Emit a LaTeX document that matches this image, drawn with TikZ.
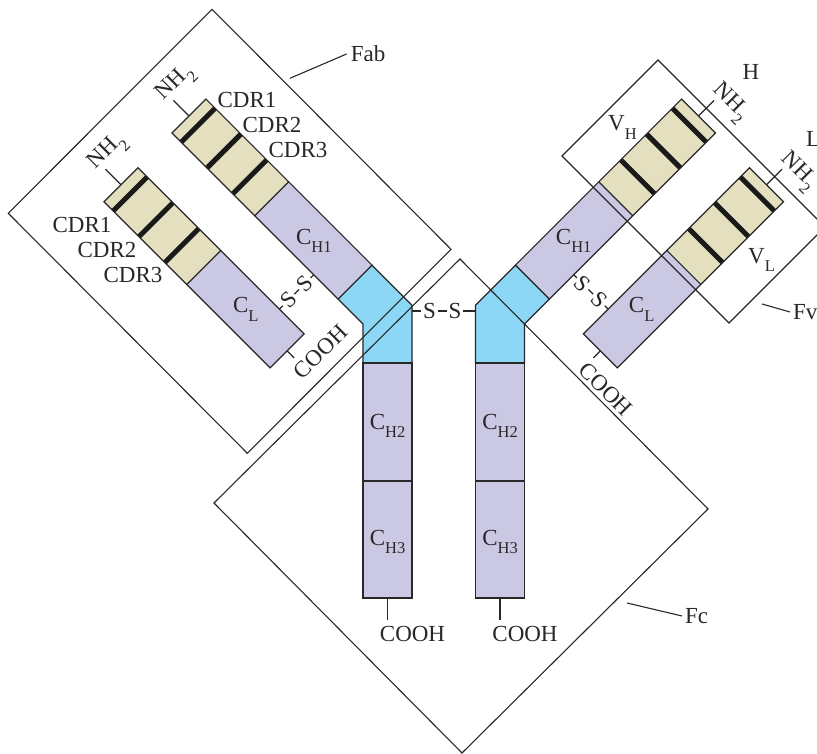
\documentclass[tikz,border=0pt]{standalone}
\usepackage{fontspec}
\setmainfont{Liberation Serif}
\definecolor{lavc}{RGB}{203,200,228}
\definecolor{tanc}{RGB}{227,223,191}
\definecolor{bluec}{RGB}{139,215,245}
\definecolor{inkc}{RGB}{40,40,40}
\newcommand\sbs[1]{\raisebox{-0.38em}{\fontsize{16.5}{16.5}\selectfont #1}}
\tikzset{
 outl/.style={draw=inkc, line width=1.2pt, line join=miter},
 boxl/.style={draw=inkc, line width=1.1pt},
 band/.style={draw=black!90, line width=5pt},
 lab/.style={font=\fontsize{23}{25}\selectfont, text=inkc, inner sep=0pt},
 sl/.style={lab, inner sep=1.5pt},
}
\newcommand\halfmol[2]{%
 % heavy-chain arm
 \begin{scope}[shift={(172,621)},rotate=-45]
  \fill[tanc] (0,0) rectangle (117,48);
  \fill[lavc] (117,0) rectangle (235,48);
  \foreach \b in {13,49.5,86} \draw[band] (\b,0) -- (\b,48);
  \draw[outl] (0,0) rectangle (235,48) (117,0) -- (117,48);
  \draw[outl] (0,24) -- (-22,24);
 \end{scope}
 % light-chain arm
 \begin{scope}[shift={(104,552.3)},rotate=-45]
  \fill[tanc] (0,0) rectangle (117,48);
  \fill[lavc] (117,0) rectangle (235,48);
  \foreach \b in {13,49.5,86} \draw[band] (\b,0) -- (\b,48);
  \draw[outl] (0,0) rectangle (235,48) (117,0) -- (117,48);
  \draw[outl] (0,24) -- (-22,24);
  \draw[outl] (235,24) -- (245,24);
  \node[sl,rotate=#2] (sa#1) at (200,61) {S};
  \node[sl,rotate=#2] (sb#1) at (200,84) {S};
  \coordinate (ea#1) at (200,48);
  \coordinate (eb#1) at (200,96.7);
  \draw[outl] (ea#1) -- (sa#1) -- (sb#1) -- (eb#1);
 \end{scope}
 % hinge
 \filldraw[outl, fill=bluec] (338.2,454.8) -- (372.1,488.7) -- (412,448.8) -- (412,391) -- (363,391) -- (363,430) -- cycle;
 % vertical chain
 \filldraw[outl, fill=lavc] (363,156) rectangle (412,391);
 \draw[outl] (363,273) -- (412,273);
 \draw[outl] (387.5,156) -- (387.5,134);
}
\begin{document}
\begin{tikzpicture}[x=1pt,y=1pt]
\clip (0,0) rectangle (817,754);
\fill[white] (0,0) rectangle (817,754);
\halfmol{l}{45}
\begin{scope}[shift={(887.5,0)},xscale=-1]
 \halfmol{r}{-45}
\end{scope}
% hinge disulfide
\coordinate (hl) at (412,443);
\coordinate (hr) at (475.5,443);
\node[sl] (hs1) at (429.5,443) {S};
\node[sl] (hs2) at (455,443) {S};
\draw[outl] (hl) -- (hs1) -- (hs2) -- (hr);
% fragment boxes
\draw[boxl] (212,744.7) -- (451,504.7) -- (247.3,300.7) -- (8.3,540.7) -- cycle;
\draw[boxl] (460,495) -- (708,245) -- (462,1) -- (214,251) -- cycle;
\draw[boxl] (658,694) -- (825,527) -- (729,431) -- (562,598) -- cycle;
% labels
\node[lab,rotate=45] (nha) at (176.2,670) {NH\sbs{2}};
\node[lab,rotate=45] (nhb) at (108.2,601.3) {NH\sbs{2}};
\node[lab,rotate=-45] (nhc) at (729.7,650.8) {NH\sbs{2}};
\node[lab,rotate=-45] (nhd) at (797.7,582.1) {NH\sbs{2}};
\node[lab] (cdra) at (247,654) {CDR1};
\node[lab] (cdrb) at (272,629) {CDR2};
\node[lab] (cdrc) at (298,604) {CDR3};
\node[lab] (cdrd) at (82,529) {CDR1};
\node[lab] (cdre) at (107,504) {CDR2};
\node[lab] (cdrf) at (133,479) {CDR3};
\node[lab] (chl) at (313.8,513.2) {C\sbs{H1}};
\node[lab] (cll) at (245.8,444.5) {C\sbs{L}};
\node[lab] (chr) at (573.7,513.2) {C\sbs{H1}};
\node[lab] (clr) at (641.7,444.5) {C\sbs{L}};
\node[lab] (ch2l) at (387.5,328) {C\sbs{H2}};
\node[lab] (ch3l) at (387.5,212) {C\sbs{H3}};
\node[lab] (ch2r) at (500,328) {C\sbs{H2}};
\node[lab] (ch3r) at (500,212) {C\sbs{H3}};
\node[lab,rotate=45] (coa) at (320.7,402.3) {COOH};
\node[lab,rotate=-45] (cob) at (605.8,364.8) {COOH};
\node[lab] (coc) at (412.5,120) {COOH};
\node[lab] (cod) at (525,120) {COOH};
\node[lab] (vh) at (622.5,626.5) {V\sbs{H}};
\node[lab] (vl) at (761.5,494) {V\sbs{L}};
\node[lab] (hlab) at (751,682) {H};
\node[lab,anchor=west] (llab) at (806,615) {L};
\node[lab] (fab) at (368,700) {Fab};
\node[lab,anchor=west] (fv) at (793,442) {Fv};
\node[lab,anchor=west] (fc) at (685,138) {Fc};
% leaders
\coordinate (fabp) at (290,675.7);
\coordinate (fvp) at (762,450);
\coordinate (fcp) at (627,151);
\draw[boxl] (fabp) -- ([xshift=-4pt]fab.west);
\draw[boxl] (fvp) -- ([xshift=-3pt]fv.west);
\draw[boxl] (fcp) -- ([xshift=-3pt]fc.west);
\end{tikzpicture}
\end{document}
